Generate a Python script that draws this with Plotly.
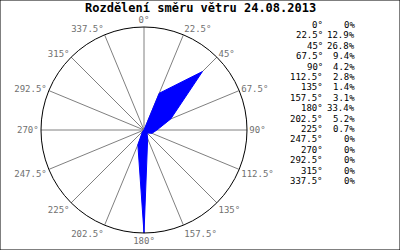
import plotly.graph_objects as go

angles = [0, 22.5, 45, 67.5, 90, 112.5, 135, 157.5, 180, 202.5, 225, 247.5, 270, 292.5, 315, 337.5]
angle_labels = ["0°", "22.5°", "45°", "67.5°", "90°", "112.5°", "135°", "157.5°",
                "180°", "202.5°", "225°", "247.5°", "270°", "292.5°", "315°", "337.5°"]
percent = [0, 12.9, 26.8, 9.4, 4.2, 2.8, 1.4, 3.1, 33.4, 5.2, 0.7, 0, 0, 0, 0, 0]
percent_labels = ["0%", "12.9%", "26.8%", "9.4%", "4.2%", "2.8%", "1.4%", "3.1%",
                  "33.4%", "5.2%", "0.7%", "0%", "0%", "0%", "0%", "0%"]
title = "Rozdělení směru větru 24.08.2013"

fig = go.Figure()
fig.add_trace(go.Scatterpolar(
    r=percent + [percent[0]], theta=angles + [angles[0]],
    mode="lines", fill="toself", fillcolor="#0000ff",
    line=dict(color="#0000ff", width=1), hoverinfo="skip"))

mono = "DejaVu Sans Mono, Liberation Mono, monospace"
fig.update_layout(
    width=400, height=250, margin=dict(l=0, r=0, t=0, b=0),
    paper_bgcolor="white", showlegend=False,
    polar=dict(
        domain=dict(x=[0.1025, 0.6175], y=[0.068, 0.892]),
        bgcolor="white",
        radialaxis=dict(visible=False, range=[0, max(percent)], showgrid=False),
        angularaxis=dict(direction="clockwise", rotation=90,
                         tickmode="array", tickvals=angles, ticktext=angle_labels,
                         showline=True, linecolor="black", linewidth=1,
                         showgrid=True, gridcolor="#808080", gridwidth=1,
                         ticks="", tickfont=dict(family=mono, size=9, color="#707070")),
    ),
    shapes=[dict(type="rect", xref="paper", yref="paper", x0=0, y0=0, x1=1, y1=1,
                 line=dict(color="black", width=1))],
)
fig.add_annotation(text="<b>" + title + "</b>", x=0.5, y=242 / 250, xref="paper", yref="paper",
                   showarrow=False, font=dict(family=mono, size=12, color="black"),
                   xanchor="center", yanchor="middle")

for i, (a, p) in enumerate(zip(angle_labels, percent_labels)):
    yy = 1 - (25 + i * 10.4) / 250
    fig.add_annotation(text=a, x=325 / 400, y=yy, xref="paper", yref="paper",
                       showarrow=False, xanchor="right", yanchor="middle",
                       font=dict(family=mono, size=9, color="black"))
    fig.add_annotation(text=p, x=357 / 400, y=yy, xref="paper", yref="paper",
                       showarrow=False, xanchor="right", yanchor="middle",
                       font=dict(family=mono, size=9, color="black"))

fig.write_html("out.html")
